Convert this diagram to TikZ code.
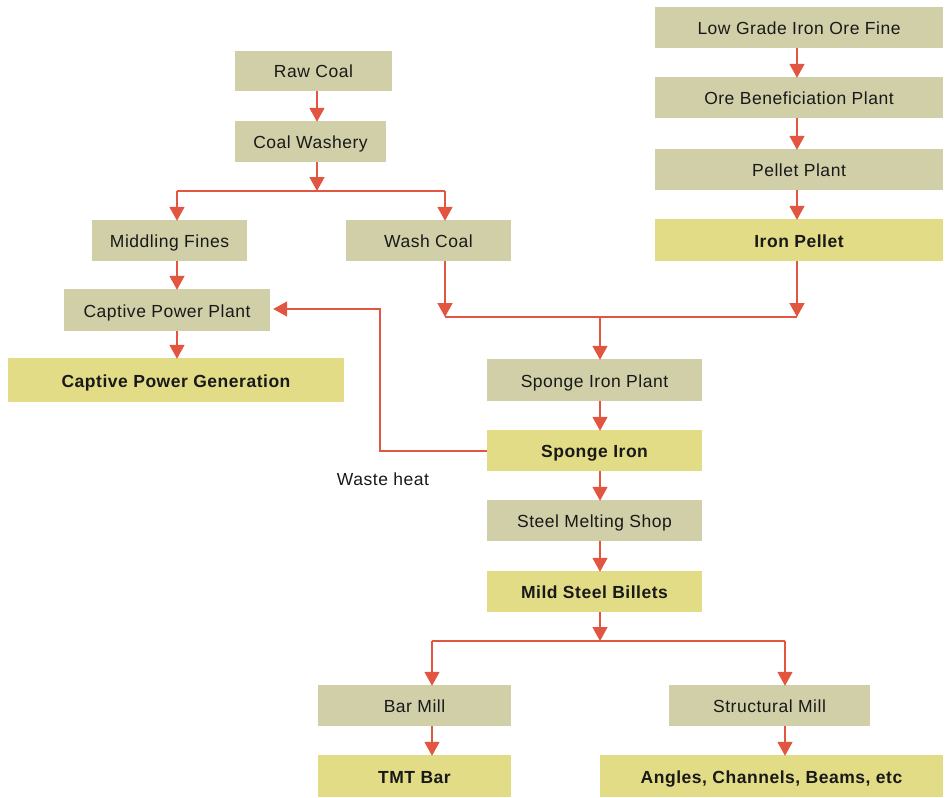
\documentclass[tikz,border=0pt]{standalone}
\usepackage{fontspec}
\setmainfont{Liberation Sans}[LetterSpace=3]
\usetikzlibrary{arrows.meta}
\definecolor{boxgray}{RGB}{208,207,168}
\definecolor{boxyel}{RGB}{227,220,134}
\definecolor{arr}{RGB}{226,85,64}
\definecolor{txt}{RGB}{25,25,25}
\tikzset{
  proc/.style={fill=boxgray, inner sep=0pt, text height=14pt, text depth=0pt, text=txt, font=\fontsize{17.5}{20}\selectfont},
  prod/.style={fill=boxyel, inner sep=0pt, text height=14pt, text depth=0pt, text=txt, font=\fontsize{17.5}{20}\selectfont\bfseries},
  flow/.style={draw=arr, line width=1.6pt, -{Triangle[width=15pt,length=14pt]}},
  lnk/.style={draw=arr, line width=1.6pt},
  lbl/.style={inner sep=0pt, text height=14pt, text depth=0pt, text=txt, font=\fontsize{17.5}{20}\selectfont},
}
\begin{document}
\begin{tikzpicture}[x=1pt,y=-1pt]
\useasboundingbox (0,0) rectangle (949,797);
% boxes
\node[proc, minimum width=157pt, minimum height=40pt] (ra) at (313.5,71) {Raw Coal};
\node[proc, minimum width=151pt, minimum height=41pt] (cw) at (310.5,141.5) {Coal Washery};
\node[proc, minimum width=155pt, minimum height=41pt] (mf) at (169.5,240.5) {Middling Fines};
\node[proc, minimum width=165pt, minimum height=41pt] (wc) at (428.5,240.5) {Wash Coal};
\node[proc, minimum width=206pt, minimum height=42pt] (cpp) at (167,310) {Captive Power Plant};
\node[prod, minimum width=336pt, minimum height=44pt] (cpg) at (176,380) {Captive Power Generation};
\node[proc, minimum width=288pt, minimum height=41pt] (lg) at (799,27.5) {Low Grade Iron Ore Fine};
\node[proc, minimum width=288pt, minimum height=41pt] (ob) at (799,97.5) {Ore Beneficiation Plant};
\node[proc, minimum width=288pt, minimum height=41pt] (pp) at (799,169.5) {Pellet Plant};
\node[prod, minimum width=288pt, minimum height=42pt] (ip) at (799,240) {Iron Pellet};
\node[proc, minimum width=215pt, minimum height=42pt] (sip) at (594.5,380) {Sponge Iron Plant};
\node[prod, minimum width=215pt, minimum height=41pt] (si) at (594.5,450.5) {Sponge Iron};
\node[proc, minimum width=215pt, minimum height=41pt] (sms) at (594.5,520.5) {Steel Melting Shop};
\node[prod, minimum width=215pt, minimum height=41pt] (msb) at (594.5,591.5) {Mild Steel Billets};
\node[proc, minimum width=193pt, minimum height=41pt] (bm) at (414.5,705.5) {Bar Mill};
\node[proc, minimum width=201pt, minimum height=41pt] (sm) at (769.5,705.5) {Structural Mill};
\node[prod, minimum width=193pt, minimum height=42pt] (tmt) at (414.5,776) {TMT Bar};
\node[prod, minimum width=343pt, minimum height=42pt] (acb) at (771.5,776) {Angles, Channels, Beams, etc};
\node[lbl] (wh) at (383,478) {Waste heat};
% helper coordinates
\coordinate (xa) at (317,0);
\coordinate (xr) at (797,0);
\coordinate (xc) at (600,0);
\coordinate (xl) at (177,0);
\coordinate (b1m) at (317,191);
\coordinate (b1l) at (177,191);
\coordinate (b1r) at (445,191);
\coordinate (m1l) at (445,317);
\coordinate (m1r) at (797,317);
\coordinate (m1m) at (600,317);
\coordinate (b2m) at (600,641);
\coordinate (b2l) at (432,641);
\coordinate (b2r) at (785,641);
\coordinate (wh1) at (380,451);
\coordinate (wh2) at (380,309);
% coal line
\draw[flow] (ra.south -| xa) -- ([yshift=-1pt]cw.north -| xa);
\draw[flow] (cw.south -| xa) -- (b1m);
\draw[lnk] (b1l) -- (b1r);
\draw[flow] (b1l) -- ([yshift=-1pt]mf.north -| b1l);
\draw[flow] (b1r) -- ([yshift=-1pt]wc.north -| b1r);
\draw[flow] (mf.south -| xl) -- ([yshift=-1pt]cpp.north -| xl);
\draw[flow] (cpp.south -| xl) -- ([yshift=-1pt]cpg.north -| xl);
% ore line
\draw[flow] (lg.south -| xr) -- ([yshift=-1pt]ob.north -| xr);
\draw[flow] (ob.south -| xr) -- ([yshift=-1pt]pp.north -| xr);
\draw[flow] (pp.south -| xr) -- ([yshift=-1pt]ip.north -| xr);
% merge
\draw[flow] (wc.south -| m1l) -- (m1l);
\draw[flow] (ip.south -| m1r) -- (m1r);
\draw[lnk] (m1l) -- (m1r);
\draw[flow] (m1m) -- ([yshift=-1pt]sip.north -| xc);
% centre column
\draw[flow] (sip.south -| xc) -- ([yshift=-1pt]si.north -| xc);
\draw[flow] (si.south -| xc) -- ([yshift=-1pt]sms.north -| xc);
\draw[flow] (sms.south -| xc) -- ([yshift=-1pt]msb.north -| xc);
\draw[flow] (msb.south -| xc) -- (b2m);
\draw[lnk] (b2l) -- (b2r);
\draw[flow] (b2l) -- ([yshift=-1pt]bm.north -| b2l);
\draw[flow] (b2r) -- ([yshift=-1pt]sm.north -| b2r);
\draw[flow] (bm.south -| b2l) -- ([yshift=-1pt]tmt.north -| b2l);
\draw[flow] (sm.south -| b2r) -- ([yshift=-1pt]acb.north -| b2r);
% waste heat
\draw[flow] (si.west |- wh1) -- (wh1) -- (wh2) -- ([xshift=3pt]cpp.east |- wh2);
\end{tikzpicture}
\end{document}
